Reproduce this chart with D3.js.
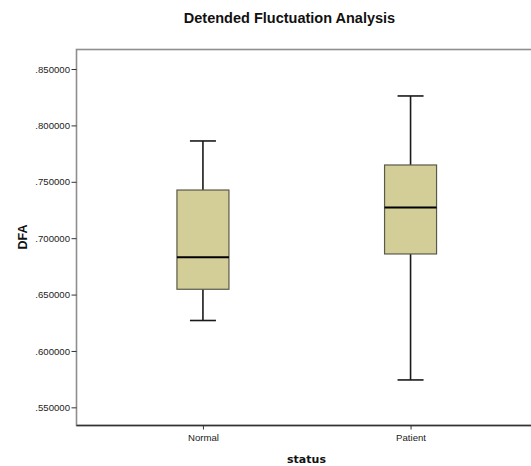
<!DOCTYPE html>
<html>
<head>
<meta charset="utf-8">
<script src="https://cdn.jsdelivr.net/npm/d3@7"></script>
<style>
  html, body { margin: 0; padding: 0; background: #fff; }
  svg { display: block; }
</style>
</head>
<body>
<svg id="chart" width="531" height="466"></svg>
<script>
// ---- data ----
const categories = ["Normal", "Patient"];
const whiskerLow  = [0.6270, 0.5743];
const q1          = [0.6547, 0.6860];
const median      = [0.6831, 0.7271];
const q3          = [0.7427, 0.7649];
const whiskerHigh = [0.7862, 0.8261];
const yTicks = [0.55, 0.60, 0.65, 0.70, 0.75, 0.80, 0.85];
const title = "Detended Fluctuation Analysis";
const xTitle = "status";
const yTitle = "DFA";

const boxes = categories.map((c, i) => ({
  cat: c, lo: whiskerLow[i], q1: q1[i], med: median[i], q3: q3[i], hi: whiskerHigh[i]
}));

// ---- layout ----
const svg = d3.select("#chart");
const pLeft = 76.5, pRight = 537, pTop = 49.5, pBottom = 425.5;

const x = d3.scalePoint().domain(categories).range([pLeft, pRight]).padding(0.609);
const y = d3.scaleLinear().domain([0.5339, 0.8673]).range([pBottom, pTop]);
const boxW = 52, capW = 26;

// title
svg.append("text")
  .attr("x", 289.5).attr("y", 23)
  .attr("text-anchor", "middle")
  .attr("font-family", "Liberation Sans, Arial, sans-serif")
  .attr("font-weight", "bold").attr("font-size", 14.5)
  .attr("fill", "#111")
  .text(title);

// frame
svg.append("rect")
  .attr("x", pLeft).attr("y", pTop)
  .attr("width", pRight - pLeft).attr("height", pBottom - pTop)
  .attr("fill", "none").attr("stroke", "#8e8e8e").attr("stroke-width", 1.6);

// y axis
const yAxis = d3.axisLeft(y).tickValues(yTicks)
  .tickSize(5).tickPadding(1.5)
  .tickFormat(v => d3.format(".6f")(v).replace(/^0/, ""));
const gy = svg.append("g").attr("transform", `translate(${pLeft},0)`).call(yAxis);
gy.select(".domain").remove();
gy.selectAll(".tick line").attr("stroke", "#333").attr("stroke-width", 1);
gy.selectAll(".tick text")
  .attr("font-family", "Liberation Sans, Arial, sans-serif")
  .attr("font-size", 9.6).attr("fill", "#222");

// x axis
const xAxis = d3.axisBottom(x).tickSize(4).tickPadding(5);
const gx = svg.append("g").attr("transform", `translate(0,${pBottom})`).call(xAxis);
gx.select(".domain").attr("stroke", "#333").attr("stroke-width", 1.4)
  .attr("d", `M${pLeft},0H${pRight}`);
gx.selectAll(".tick line").attr("stroke", "#333");
gx.selectAll(".tick text")
  .attr("font-family", "Liberation Sans, Arial, sans-serif")
  .attr("font-size", 9.6).attr("fill", "#222");

// axis titles
svg.append("text")
  .attr("x", 306.5).attr("y", 462.5)
  .attr("text-anchor", "middle")
  .attr("font-family", "DejaVu Sans, Verdana, sans-serif")
  .attr("font-weight", "bold").attr("font-size", 11)
  .attr("fill", "#111")
  .text(xTitle);

svg.append("text")
  .attr("transform", "translate(26.5,237) rotate(-90)")
  .attr("text-anchor", "middle")
  .attr("font-family", "Liberation Sans, Arial, sans-serif")
  .attr("font-weight", "bold").attr("font-size", 12.5)
  .attr("fill", "#111")
  .text(yTitle);

// boxes
const g = svg.append("g").selectAll("g").data(boxes).join("g");

g.append("line") // whisker stem
  .attr("x1", d => x(d.cat)).attr("x2", d => x(d.cat))
  .attr("y1", d => y(d.lo)).attr("y2", d => y(d.hi))
  .attr("stroke", "#1a1a1a").attr("stroke-width", 1.6);

g.append("line")
  .attr("x1", d => x(d.cat) - capW / 2).attr("x2", d => x(d.cat) + capW / 2)
  .attr("y1", d => y(d.hi)).attr("y2", d => y(d.hi))
  .attr("stroke", "#1a1a1a").attr("stroke-width", 1.6);
g.append("line")
  .attr("x1", d => x(d.cat) - capW / 2).attr("x2", d => x(d.cat) + capW / 2)
  .attr("y1", d => y(d.lo)).attr("y2", d => y(d.lo))
  .attr("stroke", "#1a1a1a").attr("stroke-width", 1.6);

g.append("rect")
  .attr("x", d => x(d.cat) - boxW / 2).attr("width", boxW)
  .attr("y", d => y(d.q3)).attr("height", d => y(d.q1) - y(d.q3))
  .attr("fill", "#d3ce97").attr("stroke", "#5a5a4a").attr("stroke-width", 1.2);

g.append("line")
  .attr("x1", d => x(d.cat) - boxW / 2).attr("x2", d => x(d.cat) + boxW / 2)
  .attr("y1", d => y(d.med)).attr("y2", d => y(d.med))
  .attr("stroke", "#000").attr("stroke-width", 2);
</script>
</body>
</html>
